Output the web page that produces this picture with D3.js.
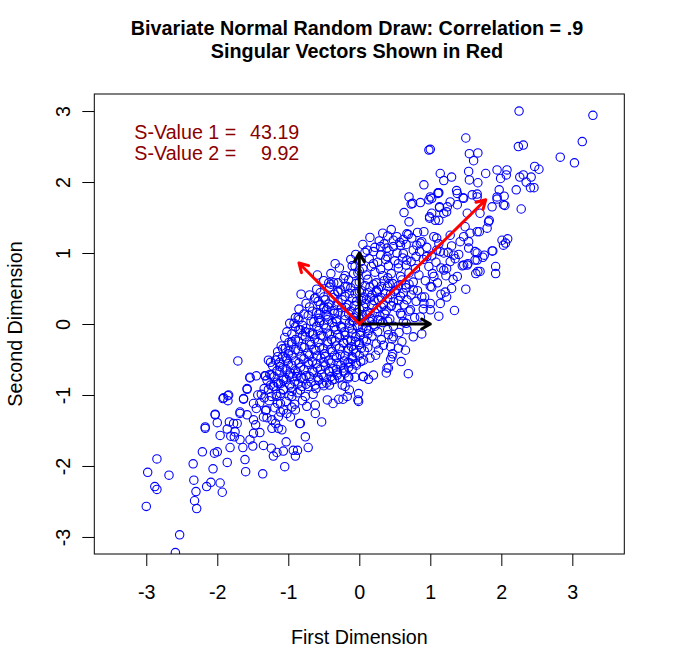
<!DOCTYPE html>
<html>
<head>
<meta charset="utf-8">
<script src="https://cdn.jsdelivr.net/npm/d3@7"></script>
<style>
  body { margin: 0; background: #fff; }
  text { font-family: "Liberation Sans", Arial, sans-serif; }
</style>
</head>
<body>
<div id="chart"></div>
<script>
const width = 673;
const height = 672;

const titleLines = ["Bivariate Normal Random Draw: Correlation = .9", "Singular Vectors Shown in Red"];
const xTitle = "First Dimension";
const yTitle = "Second Dimension";
const xTicks = [-3, -2, -1, 0, 1, 2, 3];
const yTicks = [-3, -2, -1, 0, 1, 2, 3];
const sLabels = ["S-Value 1 =", "S-Value 2 ="];
const sValues = ["43.19", "9.92"];

// black unit vectors and red singular vectors (tips, start at origin)
const unitVectors = [[1, 0], [0, 1]];
const singularVectors = [[1.78, 1.75], [-0.85, 0.86]];

// points, lower-left tail
const lowTail = [
  [-2.85,-1.90],[-2.98,-2.09],[-2.68,-2.13],[-2.88,-2.29],[-2.85,-2.33],[-3.00,-2.57],[-2.53,-2.97],[-2.59,-3.22],
  [-2.34,-1.97],[-2.33,-2.20],[-2.30,-2.36],[-2.32,-2.49],[-2.29,-2.60],[-2.21,-1.80],[-2.06,-2.04],[-2.15,-2.29],
  [-2.09,-2.23],[-1.96,-2.24],[-1.93,-2.37],[-2.04,-1.82],[-2.00,-1.80],[-1.86,-1.95],[-1.61,-1.91],[-1.60,-2.08],
  [-1.36,-2.11],[-1.05,-2.01],[-2.17,-1.47],[-1.96,-1.57],[-1.82,-1.74],[-2.00,-1.39],[-2.03,-1.28],[-1.86,-1.48],
  [-1.83,-1.38],[-1.68,-1.24],[-1.92,-1.05],[-1.85,-1.01],[-1.85,-1.08],[-1.63,-1.06],[-1.58,-0.92],[-1.54,-0.76],
  [-1.45,-0.73],[-1.43,-1.00],[-1.34,-1.04],[-1.49,-1.12],[-1.32,-0.73],[-1.24,-0.72],[-1.28,-0.92],[-1.17,-0.99],
  [-1.81,-1.58],[-1.68,-1.63],[-1.64,-1.74],[-1.75,-1.52],[-1.76,-1.59],[-1.58,-1.28],[-1.49,-1.35],[-1.46,-1.42],
  [-1.49,-1.54],[-1.54,-1.63],[-1.50,-1.72],[-1.40,-1.53],[-1.35,-1.71],[-1.31,-1.21],[-1.30,-1.32],[-1.23,-1.35],
  [-1.18,-1.40],[-1.14,-1.47],[-1.09,-1.49],[-1.23,-1.47],[-1.14,-1.31],[-1.24,-1.75],[-1.16,-1.81],[-1.21,-1.86],
  [-1.07,-1.79],[-1.03,-1.66],[-0.93,-1.78],[-0.90,-1.86],[-0.87,-1.78],[-0.76,-1.59],[-0.72,-1.74],[-0.83,-1.40],
  [-1.14,-0.84],[-1.07,-0.93],[-1.11,-1.12],[-1.02,-1.26],[-0.95,-1.02],[-0.88,-0.74],[-0.81,-0.88],[-0.74,-1.16],
  [-0.97,-0.69],[-0.90,-1.21],[-1.72,-1.40],
  [-1.71,-0.52],[-2.03,-1.27],[-2.17,-1.45],[-1.91,-1.04],[-1.84,-1.00],[-1.58,-0.91],[-1.54,-0.75],[-1.33,-0.73],
  [-1.28,-0.51],[-1.25,-0.54],[-1.15,-0.46],[-1.08,-0.35],[-0.99,-0.38],[-1.12,-0.60],[-1.02,-0.51],[-0.95,-0.25],
  [-0.62,-1.14],[-0.62,-1.26],[-0.53,-1.38],[-0.84,-1.40],[-0.97,-1.31],[-1.11,-1.24],[-1.35,-1.31],[-1.63,-1.05],
  [-1.68,-1.26],[-1.77,-1.40],[-1.16,-1.02],[-1.21,-0.88],[-1.07,-0.79]
];

// sparse points around the core
const midBand = [
  [-0.92,0.01],[-0.86,0.09],[-0.83,-0.08],[-0.76,-0.11],[-0.82,0.42],[-0.62,0.37],[-0.59,0.69],[-0.34,0.85],
  [-0.43,0.58],[-0.36,0.58],[-0.57,0.14],[-0.56,0.02],[-0.50,0.24],[-0.46,0.20],[-0.22,0.64],[-0.17,0.53],
  [-0.08,0.71],[-0.06,0.81],[0.20,-0.72],[0.06,-0.74],[-0.06,-0.75],[-0.15,-0.76],[-0.20,-0.88],[-0.17,-1.02],
  [-0.01,-0.98],[-0.02,-1.07],[-0.23,-1.06],[-0.37,-1.12],[-0.45,-1.07],
  [0.88,-0.14],[0.69,-0.70],[0.59,-0.53],[0.65,-0.37],[0.55,-0.34],[0.60,-0.25],[0.47,-0.42],[0.44,-0.50],
  [0.39,-0.62],[0.38,-0.69],[0.13,-0.78],[0.05,-0.74],[-0.14,-0.93],[-0.01,-1.09],[-0.29,-1.06],[-0.24,-0.86],
  [0.41,-0.15],[0.46,-0.21],[0.34,-0.30],[0.27,-0.37],[0.23,-0.44],[0.15,-0.48],[0.06,-0.51],[-0.13,-0.55],
  [-0.22,-0.62],[-0.31,-0.69],[-0.38,-0.79],[0.46,-0.46],[0.41,-0.62],[0.44,-0.32],[0.48,-0.18],[0.67,-0.08],
  [0.76,-0.18]
];

// dense centre of the cloud
const core = [
  [0.15,1.22],[0.28,1.17],[0.40,1.24],[0.62,1.19],[0.74,1.21],[0.88,1.16],[1.05,1.23],
  [0.05,1.12],[0.22,1.08],[0.35,1.13],[0.48,1.09],[0.66,1.12],[0.95,1.08],[1.12,1.13],[1.30,1.10],
  [-0.05,0.98],[0.08,1.01],[0.30,0.97],[0.42,1.03],[0.62,0.99],[0.85,1.02],[1.02,0.96],[1.25,1.01],[1.40,0.98],
  [-0.12,0.91],[0.02,0.88],[0.14,0.92],[0.26,0.87],[0.37,0.91],[0.50,0.89],[0.61,0.93],[0.73,0.88],[0.90,0.91],[1.08,0.87],[1.35,0.92],
  [-0.28,0.79],[-0.10,0.82],[0.05,0.78],[0.17,0.81],[0.30,0.77],[0.41,0.82],[0.55,0.79],[0.66,0.83],[0.79,0.78],[0.98,0.81],[1.15,0.79],[1.45,0.82],
  [-0.40,0.71],[-0.20,0.68],[-0.02,0.72],[0.10,0.69],[0.22,0.73],[0.33,0.68],[0.45,0.71],[0.58,0.67],[0.70,0.72],[0.84,0.69],[1.03,0.71],[1.22,0.68],
  [-0.50,0.61],[-0.30,0.58],[-0.15,0.62],[0.00,0.59],[0.12,0.63],[0.24,0.58],[0.35,0.61],[0.47,0.57],[0.60,0.62],[0.76,0.59],[0.93,0.61],[1.10,0.58],
  [-0.60,0.49],[-0.42,0.52],[-0.26,0.48],[-0.12,0.51],[0.03,0.47],[0.15,0.52],[0.27,0.49],[0.40,0.53],[0.52,0.48],[0.66,0.51],[0.82,0.47],[1.02,0.52],[1.30,0.50],
  [-0.70,0.41],[-0.50,0.38],[-0.35,0.42],[-0.20,0.39],[-0.06,0.43],[0.06,0.38],[0.18,0.41],[0.31,0.37],[0.44,0.42],[0.58,0.39],[0.73,0.41],[0.92,0.38],[1.15,0.42],
  [-0.75,0.29],[-0.58,0.32],[-0.43,0.28],[-0.30,0.31],[-0.16,0.27],[-0.04,0.32],[0.09,0.29],[0.21,0.33],[0.34,0.28],[0.48,0.31],[0.63,0.27],[0.80,0.32],[1.00,0.29],
  [-0.85,0.21],[-0.66,0.18],[-0.50,0.22],[-0.37,0.19],[-0.25,0.23],[-0.12,0.18],[0.00,0.21],[0.12,0.17],[0.25,0.22],[0.38,0.19],[0.53,0.23],[0.70,0.18],[0.90,0.21],
  [-0.90,0.09],[-0.72,0.12],[-0.57,0.08],[-0.44,0.11],[-0.32,0.07],[-0.20,0.12],[-0.08,0.09],[0.04,0.13],[0.16,0.08],[0.29,0.11],[0.43,0.07],[0.60,0.12],[0.78,0.09],
  [-0.98,0.01],[-0.80,-0.02],[-0.64,0.03],[-0.50,-0.01],[-0.38,0.02],[-0.26,-0.03],[-0.14,0.01],[-0.03,-0.02],[0.08,0.03],[0.20,-0.01],[0.33,0.02],[0.48,-0.03],[0.66,0.01],
  [-1.02,-0.11],[-0.85,-0.08],[-0.70,-0.12],[-0.57,-0.09],[-0.45,-0.13],[-0.33,-0.08],[-0.21,-0.11],[-0.10,-0.07],[0.02,-0.12],[0.13,-0.09],[0.26,-0.11],[0.40,-0.08],[0.56,-0.12],
  [-1.05,-0.19],[-0.90,-0.22],[-0.76,-0.18],[-0.63,-0.21],[-0.51,-0.17],[-0.39,-0.22],[-0.28,-0.19],[-0.17,-0.23],[-0.05,-0.18],[0.06,-0.21],[0.18,-0.17],[0.31,-0.22],
  [-1.10,-0.31],[-0.95,-0.28],[-0.81,-0.32],[-0.68,-0.29],[-0.56,-0.33],[-0.44,-0.28],[-0.33,-0.31],[-0.22,-0.27],[-0.11,-0.32],[0.00,-0.29],[0.12,-0.33],[0.24,-0.28],
  [-1.15,-0.39],[-1.00,-0.42],[-0.86,-0.38],[-0.73,-0.41],[-0.61,-0.37],[-0.49,-0.42],[-0.38,-0.39],[-0.27,-0.43],[-0.16,-0.38],[-0.05,-0.41],[0.07,-0.38],
  [-1.18,-0.51],[-1.03,-0.48],[-0.90,-0.52],[-0.78,-0.49],[-0.66,-0.53],[-0.54,-0.48],[-0.43,-0.51],[-0.32,-0.47],[-0.21,-0.52],[-0.10,-0.49],[0.02,-0.53],
  [-1.22,-0.59],[-1.08,-0.62],[-0.95,-0.58],[-0.83,-0.61],[-0.71,-0.57],[-0.59,-0.62],[-0.48,-0.59],[-0.37,-0.63],[-0.26,-0.58],[-0.15,-0.61],[-0.04,-0.58],
  [-1.26,-0.71],[-1.12,-0.68],[-0.99,-0.72],[-0.87,-0.69],[-0.75,-0.73],[-0.64,-0.68],[-0.53,-0.71],[-0.42,-0.67],[-0.31,-0.72],[-0.20,-0.69],
  [-1.30,-0.79],[-1.16,-0.82],[-1.03,-0.78],[-0.91,-0.81],[-0.79,-0.77],[-0.68,-0.82],[-0.57,-0.79],[-0.46,-0.83],[-0.35,-0.78],
  [-1.34,-0.91],[-1.20,-0.88],[-1.07,-0.92],[-0.95,-0.89],[-0.83,-0.93],[-0.72,-0.88],[-0.61,-0.91],[-0.50,-0.87],
  [-1.38,-0.99],[-1.24,-1.02],[-1.11,-0.98],[-0.99,-1.01],[-0.87,-0.97],[-0.76,-1.02],[-0.65,-0.99],
  [-1.40,-1.11],[-1.27,-1.08],[-1.15,-1.12],[-1.03,-1.09],[-0.91,-1.13],[-0.80,-1.08],
  [-1.45,-1.19],[-1.32,-1.22],[-1.19,-1.18],[-1.07,-1.21],[-0.95,-1.17],
  [-0.45,-0.25],[-0.30,-0.15],[-0.15,-0.35],[-0.60,-0.45],[-0.40,-0.55],[-0.25,-0.05],[-0.10,0.05],[0.05,-0.05],
  [0.15,0.15],[-0.55,0.05],[-0.70,-0.25],[-0.85,-0.55],[-0.50,-0.75],[0.25,0.45],[0.40,0.65],[0.55,0.85],
  [-0.35,0.15],[-0.20,-0.45],[-0.05,-0.25],[0.10,0.35],[0.30,0.05],[0.45,0.25],[0.65,0.55],[0.80,0.95],
  [-0.75,-0.85],[-0.95,-0.95],[-0.65,-0.15],[-0.30,0.45],[0.00,0.75],[0.20,0.85]
];

// second, denser layer in the middle of the cloud
const coreFill = [
  [-0.40,0.56],[-0.20,0.53],[-0.05,0.57],[0.08,0.54],[0.20,0.56],[0.31,0.53],[0.42,0.57],[0.55,0.54],[0.70,0.56],
  [-0.55,0.44],[-0.30,0.46],[-0.14,0.43],[0.00,0.46],[0.12,0.44],[0.24,0.47],[0.37,0.43],[0.50,0.46],[0.62,0.44],
  [-0.63,0.36],[-0.48,0.34],[-0.37,0.37],[-0.24,0.34],[-0.10,0.36],[0.03,0.33],[0.15,0.37],[0.27,0.34],[0.40,0.36],[0.55,0.33],
  [-0.70,0.24],[-0.55,0.27],[-0.44,0.24],[-0.31,0.26],[-0.19,0.23],[-0.07,0.26],[0.06,0.24],[0.18,0.27],[0.31,0.24],[0.45,0.26],
  [-0.78,0.14],[-0.60,0.16],[-0.47,0.13],[-0.30,0.16],[-0.15,0.14],[-0.03,0.16],[0.10,0.13],[0.22,0.16],[0.36,0.14],
  [-0.85,0.06],[-0.68,0.04],[-0.45,0.06],[-0.32,0.03],[-0.20,0.06],[-0.08,0.04],[0.02,0.07],[0.14,0.04],[0.26,0.06],[0.40,0.04],
  [-0.90,-0.04],[-0.75,-0.06],[-0.60,-0.03],[-0.47,-0.06],[-0.35,-0.04],[-0.14,-0.06],[-0.02,-0.04],[0.10,-0.06],[0.22,-0.03],
  [-0.95,-0.14],[-0.80,-0.16],[-0.66,-0.13],[-0.54,-0.16],[-0.42,-0.14],[-0.20,-0.16],[-0.10,-0.13],[0.01,-0.16],[0.12,-0.14],
  [-0.99,-0.26],[-0.86,-0.24],[-0.58,-0.26],[-0.34,-0.24],[-0.22,-0.26],[-0.12,-0.23],[0.00,-0.26],[0.10,-0.24],
  [-1.04,-0.34],[-0.90,-0.36],[-0.77,-0.33],[-0.64,-0.36],[-0.51,-0.34],[-0.40,-0.36],[-0.28,-0.34],[-0.08,-0.36],[0.03,-0.34],
  [-1.08,-0.46],[-0.95,-0.44],[-0.82,-0.46],[-0.70,-0.44],[-0.48,-0.46],[-0.35,-0.44],[-0.10,-0.46],[0.00,-0.44],
  [-1.12,-0.54],[-1.00,-0.56],[-0.72,-0.54],[-0.60,-0.56],[-0.50,-0.54],[-0.30,-0.56],[-0.16,-0.54],[-0.05,-0.56],
  [-1.16,-0.66],[-1.03,-0.64],[-0.90,-0.66],[-0.78,-0.64],[-0.66,-0.66],[-0.55,-0.64],[-0.43,-0.66],[-0.32,-0.64],[-0.22,-0.66],[-0.10,-0.64],
  [-1.20,-0.74],[-1.07,-0.76],[-0.94,-0.74],[-0.82,-0.76],[-0.70,-0.74],[-0.58,-0.76],[-0.40,-0.74],[-0.28,-0.76],[-0.15,-0.74],
  [-1.25,-0.86],[-1.11,-0.84],[-0.98,-0.86],[-0.86,-0.84],[-0.62,-0.86],[-0.52,-0.84],[-0.42,-0.86]
];

// upper band and upper-right tail
const highBand = [
  [0.70,1.79],[0.73,1.69],[0.86,1.71],[0.98,1.75],[1.00,1.79],[1.11,1.84],[1.13,1.65],[0.63,1.57],[0.70,1.44],
  [0.33,1.28],[0.45,1.33],[0.48,1.18],[0.57,1.15],[0.67,1.27],[0.82,1.29],[0.91,1.30],[0.99,1.51],[1.02,1.56],
  [1.07,1.46],[1.19,1.56],[1.24,1.65],[1.38,1.84],[1.47,1.77],[1.59,1.82],[1.66,1.79],[1.87,1.65],[1.94,1.79],
  [2.03,1.68],[1.82,1.44],[1.80,1.35],[1.66,1.30],[1.56,1.28],[1.47,1.23],[1.54,1.16],[2.01,1.18],[2.06,1.14],
  [1.88,1.03],[1.76,0.97],[1.66,1.00],[1.63,0.90],[1.53,0.85],[1.64,0.71],[1.70,0.74],[1.92,0.81],[1.92,0.71],
  [1.50,0.49],[1.38,0.67],[1.32,0.63],[1.34,0.19],[1.12,0.11],[1.00,0.20],[1.14,0.29],[1.23,0.38],[1.21,0.45],
  [0.88,0.38],[0.91,0.29],[0.34,0.27],[0.20,1.02],[0.11,1.04],[0.30,1.09],[0.39,0.95],[0.53,1.00],[0.67,0.90],
  [0.76,1.04],[0.86,1.14],[0.95,0.95],[1.09,1.04],[1.19,1.00],[1.28,0.88],[1.19,0.76],[1.05,0.67],[1.00,0.53],
  [0.76,0.48],[0.67,0.34],[0.72,0.20],[0.58,0.15],[0.86,0.10],[0.62,0.03],
  [0.98,2.45],[1.14,2.12],[1.19,2.02],[0.91,1.96],[1.11,1.85],[0.75,1.70],[0.99,1.49],[1.13,1.64],[0.53,1.23],
  [0.69,1.26],[0.39,1.07],[0.58,1.11],[0.81,1.11],
  [2.25,3.00],[3.29,2.94],[3.14,2.57],[2.83,2.35],[3.03,2.27],[1.50,2.62],[2.24,2.50],[2.31,2.52],[1.55,2.40],
  [1.67,2.41],[1.61,2.30],[1.00,2.46],[1.30,2.07],[1.54,2.15],[1.55,2.03],[1.67,1.99],[1.78,2.12],[1.94,2.17],
  [2.08,2.17],[2.07,2.10],[1.99,2.05],[2.47,2.22],[2.53,2.18],[2.26,2.07],[2.31,2.10],[2.42,2.07],[2.35,2.00],
  [2.41,1.92],[2.46,1.92],[2.21,1.89],[1.97,1.89],[2.04,1.80],[1.94,1.76],[2.05,1.67],[2.28,1.62],[1.37,1.88],
  [1.12,1.85],[1.02,1.77],[1.46,1.78],[1.66,1.83],[1.28,1.72],[1.52,1.56],[1.70,1.56],[1.83,1.46],[1.69,1.30],
  [2.09,1.20],[2.03,1.11],[1.87,1.03],[1.74,0.94],[1.63,1.02],[1.66,0.90],[1.52,0.83],[1.67,0.74],
  [1.12,1.46],[1.23,1.58],[1.38,1.68],[1.49,1.37],[1.28,1.25],[1.42,1.16],[1.54,1.07],[1.14,1.02],[1.33,0.97],
  [1.47,0.83],[1.23,0.78],[1.09,1.21]
];

let svg = d3.select("#chart").append("svg")
    .attr("width", width)
    .attr("height", height);

// plot region (R with asp = 1)
const plotLeft = 94.3, plotRight = 624.3, plotTop = 94, plotBottom = 554;
const fontSize = "19.7px";

let xScale = d3.scaleLinear()
    .domain([-3.732, 3.732])
    .range([plotLeft, plotRight]);

let yScale = d3.scaleLinear()
    .domain([-3.24, 3.24])
    .range([plotBottom, plotTop]);

svg.append("clipPath")
    .attr("id", "plotClip")
    .append("rect")
    .attr("x", plotLeft)
    .attr("y", plotTop)
    .attr("width", plotRight - plotLeft)
    .attr("height", plotBottom - plotTop);

// points
let points = lowTail.concat(midBand, core, coreFill, highBand);

svg.append("g")
    .attr("clip-path", "url(#plotClip)")
    .selectAll("circle")
    .data(points)
    .enter()
    .append("circle")
    .attr("cx", d => xScale(d[0]))
    .attr("cy", d => yScale(d[1]))
    .attr("r", 4.2)
    .style("fill", "none")
    .style("stroke", "#0000ff")
    .style("stroke-width", 1.1);

// arrows like R's arrows(): shaft plus two head strokes
function arrowPath(tip) {
    let x0 = xScale(0), y0 = yScale(0);
    let x1 = xScale(tip[0]), y1 = yScale(tip[1]);
    let ang = Math.atan2(y1 - y0, x1 - x0);
    let len = 10, spread = Math.PI / 6;
    let ax = x1 - len * Math.cos(ang - spread), ay = y1 - len * Math.sin(ang - spread);
    let bx = x1 - len * Math.cos(ang + spread), by = y1 - len * Math.sin(ang + spread);
    return `M${x0},${y0}L${x1},${y1}M${ax},${ay}L${x1},${y1}L${bx},${by}`;
}

svg.append("g")
    .selectAll("path")
    .data(unitVectors)
    .enter()
    .append("path")
    .attr("d", arrowPath)
    .style("fill", "none")
    .style("stroke", "black")
    .style("stroke-width", 3)
    .style("stroke-linecap", "round")
    .style("stroke-linejoin", "round");

svg.append("g")
    .selectAll("path")
    .data(singularVectors)
    .enter()
    .append("path")
    .attr("d", arrowPath)
    .style("fill", "none")
    .style("stroke", "#ff0000")
    .style("stroke-width", 3)
    .style("stroke-linecap", "round")
    .style("stroke-linejoin", "round");

// box
svg.append("rect")
    .attr("x", plotLeft)
    .attr("y", plotTop)
    .attr("width", plotRight - plotLeft)
    .attr("height", plotBottom - plotTop)
    .style("fill", "none")
    .style("stroke", "black")
    .style("stroke-width", 1);

// axes, plain hyphen minus like R
let xAxis = svg.append("g")
    .attr("transform", `translate(0,${plotBottom})`)
    .call(d3.axisBottom(xScale).tickValues(xTicks).tickSize(12).tickFormat(d => String(d)));

xAxis.select(".domain").remove();
xAxis.selectAll("line").attr("stroke", "black");
xAxis.selectAll("text")
    .attr("y", 45)
    .attr("dy", null)
    .attr("fill", "black")
    .style("font-size", fontSize)
    .style("font-family", "'Liberation Sans', Arial, sans-serif");

let yAxis = svg.append("g")
    .attr("transform", `translate(${plotLeft},0)`)
    .call(d3.axisLeft(yScale).tickValues(yTicks).tickSize(12).tickFormat(d => String(d)));

yAxis.select(".domain").remove();
yAxis.selectAll("line").attr("stroke", "black");
yAxis.selectAll("text")
    .attr("x", null)
    .attr("dy", null)
    .attr("text-anchor", "middle")
    .attr("transform", "translate(-24.8,0) rotate(-90)")
    .attr("fill", "black")
    .style("font-size", fontSize)
    .style("font-family", "'Liberation Sans', Arial, sans-serif");

// axis titles
svg.append("text")
    .attr("x", (plotLeft + plotRight) / 2)
    .attr("y", 644)
    .attr("text-anchor", "middle")
    .style("font-size", fontSize)
    .text(xTitle);

svg.append("text")
    .attr("transform", `translate(21.7,${(plotTop + plotBottom) / 2}) rotate(-90)`)
    .attr("text-anchor", "middle")
    .style("font-size", fontSize)
    .text(yTitle);

// title
svg.selectAll(".title")
    .data(titleLines)
    .enter()
    .append("text")
    .attr("class", "title")
    .attr("x", 357)
    .attr("y", (d, i) => 35 + i * 23.3)
    .attr("text-anchor", "middle")
    .style("font-size", "19.8px")
    .style("font-weight", "bold")
    .text(d => d);

// singular values
svg.selectAll(".slabel")
    .data(sLabels)
    .enter()
    .append("text")
    .attr("class", "slabel")
    .attr("x", 134.3)
    .attr("y", (d, i) => 139.3 + i * 20.7)
    .attr("fill", "#8b0000")
    .style("font-size", fontSize)
    .text(d => d);

svg.selectAll(".svalue")
    .data(sValues)
    .enter()
    .append("text")
    .attr("class", "svalue")
    .attr("x", 299.3)
    .attr("y", (d, i) => 139.3 + i * 20.7)
    .attr("text-anchor", "end")
    .attr("fill", "#8b0000")
    .style("font-size", fontSize)
    .text(d => d);
</script>
</body>
</html>
